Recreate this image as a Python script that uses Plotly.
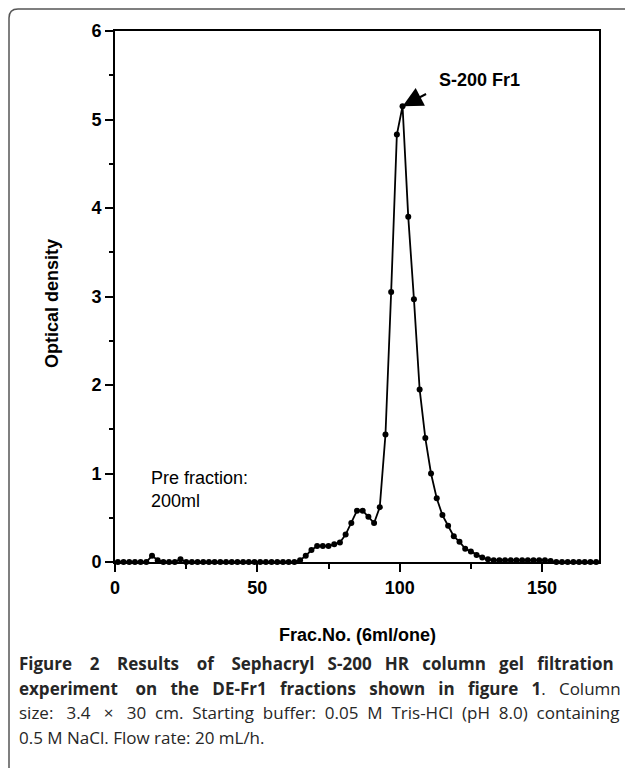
import plotly.graph_objects as go

# ---- data (fraction number, optical density) ----
frac = [1, 3, 5, 7, 9, 11, 13, 15, 17, 19, 21, 23, 25, 27, 29, 31, 33, 35, 37, 39,
        41, 43, 45, 47, 49, 51, 53, 55, 57, 59, 61, 63, 65, 67, 69, 71, 73, 75, 77, 79,
        81, 83, 85, 87, 89, 91, 93, 95, 97, 99, 101, 103, 105, 107, 109, 111, 113, 115,
        117, 119, 121, 123, 125, 127, 129, 131, 133, 135, 137, 139, 141, 143, 145, 147,
        149, 151, 153, 155, 157, 159, 161, 163, 165, 167, 169]
od = [0.0, 0.0, 0.0, 0.0, 0.0, 0.0, 0.07, 0.02, 0.0, 0.0, 0.0, 0.03, 0.0, 0.0, 0.0, 0.0,
      0.0, 0.0, 0.0, 0.0, 0.0, 0.0, 0.0, 0.0, 0.0, 0.0, 0.0, 0.0, 0.0, 0.0, 0.0, 0.0,
      0.02, 0.07, 0.135, 0.18, 0.18, 0.18, 0.2, 0.22, 0.31, 0.44, 0.58, 0.58, 0.51,
      0.44, 0.62, 1.44, 3.05, 4.83, 5.15, 3.9, 2.97, 1.95, 1.40, 1.0, 0.72, 0.53, 0.41,
      0.29, 0.23, 0.15, 0.12, 0.08, 0.05, 0.03, 0.02, 0.02, 0.02, 0.02, 0.02, 0.02,
      0.02, 0.02, 0.02, 0.02, 0.01, 0.0, 0.0, 0.0, 0.0, 0.0, 0.0, 0.0, 0.0]

x_ticks = [0, 50, 100, 150]
y_ticks = [0, 1, 2, 3, 4, 5, 6]

peak_label = "S-200 Fr1"
pre_label = "Pre fraction:<br>200ml"
x_title = "Frac.No. (6ml/one)"
y_title = "Optical density"
caption_lines = [
    "<b>Figure 2 Results of Sephacryl S-200 HR column gel filtration</b>",
    "<b>experiment on the DE-Fr1 fractions shown in figure 1</b>. Column",
    "size: 3.4 × 30 cm. Starting buffer: 0.05 M Tris-HCl (pH 8.0) containing",
    "0.5 M NaCl. Flow rate: 20 mL/h.",
]
caption_extra_spaces = [22, 19, 15, 0]   # approximate the justified layout

W, H = 625, 768
L, R, T, B = 115, 26, 31, 206
pw, ph = W - L - R, H - T - B


def px(xp):
    return (xp - L) / pw


def py(yp):
    return (H - B - yp) / ph


def justify(line, total):
    words = line.split(" ")
    gaps = len(words) - 1
    if total == 0 or gaps == 0:
        return line
    out = words[0]
    for i, w in enumerate(words[1:]):
        n = 1 + total // gaps + (1 if i < total % gaps else 0)
        out += " " * n + w
    return out


fig = go.Figure()
fig.add_trace(go.Scatter(
    x=frac, y=od, mode="lines+markers",
    line=dict(color="black", width=1.8),
    marker=dict(color="black", size=6),
    cliponaxis=False, showlegend=False,
))

axis_font = dict(family="Liberation Sans, Arial", size=18, color="black", weight="bold")
fig.update_xaxes(
    range=[0, 170], tickvals=x_ticks, ticks="outside", ticklen=8, tickwidth=2,
    tickcolor="black", linecolor="black", linewidth=2, mirror=True,
    showgrid=False, zeroline=False, tickfont=axis_font,
    minor=dict(dtick=25, ticks="outside", ticklen=5, tickwidth=2, tickcolor="black"),
)
fig.update_yaxes(
    range=[0, 6], tickvals=y_ticks, ticks="outside", ticklen=8, tickwidth=2,
    tickcolor="black", linecolor="black", linewidth=2, mirror=True,
    showgrid=False, zeroline=False, tickfont=axis_font,
    minor=dict(dtick=0.5, ticks="outside", ticklen=4, tickwidth=2, tickcolor="black"),
)

# arrow pointing at the peak
fig.add_annotation(x=101, y=5.15, xref="x", yref="y", ax=25, ay=-13,
                   text="", showarrow=True, arrowhead=2, arrowsize=2.0,
                   arrowwidth=2, arrowcolor="black", standoff=0)
fig.add_annotation(x=px(479), y=py(80), xref="paper", yref="paper",
                   xanchor="center", yanchor="middle",
                   text=peak_label, showarrow=False,
                   font=dict(family="Liberation Sans, Arial", size=18,
                             color="black", weight="bold"))
fig.add_annotation(x=px(149), y=py(466), xref="paper", yref="paper",
                   xanchor="left", yanchor="top", align="left",
                   text=pre_label, showarrow=False,
                   font=dict(family="Liberation Sans, Arial", size=18, color="black"))
fig.add_annotation(x=px(357), y=py(635), xref="paper", yref="paper",
                   xanchor="center", yanchor="middle",
                   text=x_title, showarrow=False, font=axis_font)
fig.add_annotation(x=px(52), y=py(303), xref="paper", yref="paper",
                   xanchor="center", yanchor="middle",
                   text=y_title, showarrow=False, textangle=-90, font=axis_font)

cap_y = [663, 688, 712, 737]
for line, n, yy in zip(caption_lines, caption_extra_spaces, cap_y):
    fig.add_annotation(x=px(17), y=py(yy), xref="paper", yref="paper",
                       xanchor="left", yanchor="middle", align="left",
                       text=justify(line, n), showarrow=False,
                       font=dict(family="Open Sans", size=17, color="#262626"))

# outer frame (rounded top-left corner, right side beyond the page)
x0, y0, x1, y1 = px(9), py(9), px(640), py(800)
r, ry = 9 / pw, 9 / ph
fig.add_shape(type="path", xref="paper", yref="paper",
              path=(f"M {x0},{y1} L {x0},{y0 - ry} Q {x0},{y0} {x0 + r},{y0} "
                    f"L {x1},{y0}"),
              line=dict(color="#555555", width=1.5))

fig.update_layout(
    width=W, height=H, margin=dict(l=L, r=R, t=T, b=B),
    paper_bgcolor="white", plot_bgcolor="white",
)
fig.write_html("out.html")
